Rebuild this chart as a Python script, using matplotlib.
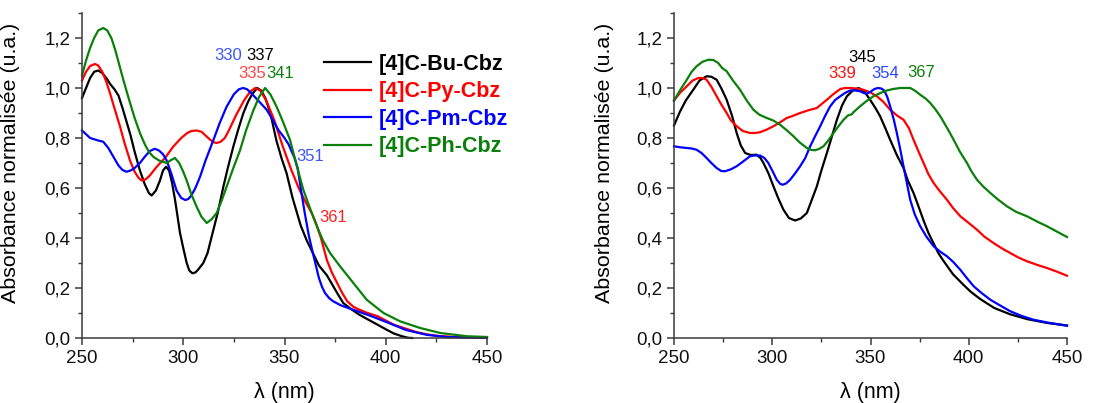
from __future__ import annotations

import matplotlib

matplotlib.use("Agg")
import matplotlib.pyplot as plt
from matplotlib.lines import Line2D
from matplotlib.ticker import FuncFormatter, MultipleLocator

plt.rcParams["font.family"] = ["Liberation Sans", "DejaVu Sans"]

# Left panel: normalised absorbance
bu_left_x = [250, 252, 254, 256, 258, 260, 262, 264, 266, 268, 270, 272, 274, 276, 278.6,
             281, 283, 284.4, 286.5, 288.5, 290, 291.5, 293, 294.5, 296, 298.4, 300,
             301.7, 303, 304.5, 306, 307.5, 309.9, 312, 314.8, 317, 319.8, 322, 324.7,
             327, 329.7, 332, 334, 336.5, 338.5, 340.5, 343, 346, 348.5, 351, 354, 358,
             361, 364, 367, 371, 373.5, 376, 379, 383, 387, 391, 396, 400, 404, 408,
             411, 413]
bu_left_y = [0.96, 1.0, 1.04, 1.065, 1.07, 1.06, 1.04, 1.015, 0.995, 0.97, 0.92, 0.865,
             0.81, 0.745, 0.67, 0.615, 0.58, 0.57, 0.59, 0.63, 0.67, 0.685, 0.67, 0.62,
             0.55, 0.42, 0.36, 0.30, 0.27, 0.259, 0.262, 0.275, 0.30, 0.34, 0.43, 0.50,
             0.605, 0.68, 0.765, 0.83, 0.90, 0.945, 0.975, 1.0, 0.99, 0.96, 0.90, 0.79,
             0.72, 0.66, 0.56, 0.45, 0.39, 0.34, 0.29, 0.25, 0.215, 0.18, 0.14, 0.115,
             0.093, 0.075, 0.053, 0.035, 0.018, 0.007, 0.001, 0.0]

py_left_x = [250, 252, 254, 256.4, 258, 260, 262, 263.8, 266, 268.8, 271, 273.7, 276,
             278, 279.5, 281.5, 283.5, 286.9, 291, 295, 299, 302, 304, 306.6, 309, 311,
             313, 315, 316.5, 318.5, 320.5, 322.5, 326, 330, 333, 335.5, 338, 341, 345,
             349, 353, 357, 360, 363.4, 365.5, 368, 371, 373.5, 376, 378.5, 381, 384,
             387, 391, 396, 400, 404, 410, 415, 420, 425, 432, 440, 450]
py_left_y = [1.03, 1.065, 1.088, 1.096, 1.09, 1.065, 1.025, 0.98, 0.92, 0.845, 0.78,
             0.71, 0.665, 0.64, 0.63, 0.635, 0.65, 0.685, 0.72, 0.765, 0.80, 0.82, 0.828,
             0.83, 0.825, 0.81, 0.795, 0.783, 0.78, 0.785, 0.80, 0.83, 0.89, 0.95, 0.985,
             1.0, 0.99, 0.95, 0.87, 0.77, 0.68, 0.60, 0.55, 0.50, 0.46, 0.40, 0.31, 0.26,
             0.22, 0.18, 0.147, 0.125, 0.113, 0.10, 0.087, 0.07, 0.053, 0.037, 0.024,
             0.015, 0.009, 0.005, 0.003, 0.002]

pm_left_x = [250, 252, 254, 256, 258, 260.5, 263, 265.5, 268, 270, 272, 274, 276, 278.6,
             281, 283.5, 286, 288, 290, 291.8, 294, 296.7, 299, 301, 302.5, 304, 306,
             308.3, 311, 314.8, 318, 321.4, 325, 327.5, 329.6, 331.5, 333.5, 337, 341.2,
             344, 347, 350, 352, 353.6, 355, 356.5, 358, 360, 362, 364, 365.5, 367,
             368.5, 370, 372, 374, 378, 385, 392, 400, 410, 420, 430, 440, 450]
pm_left_y = [0.83, 0.815, 0.80, 0.795, 0.79, 0.785, 0.76, 0.725, 0.69, 0.672, 0.665,
             0.67, 0.68, 0.70, 0.725, 0.748, 0.757, 0.75, 0.735, 0.71, 0.66, 0.59, 0.56,
             0.552, 0.556, 0.57, 0.60, 0.645, 0.71, 0.79, 0.86, 0.925, 0.975, 0.995, 1.0,
             0.995, 0.98, 0.95, 0.913, 0.875, 0.832, 0.80, 0.775, 0.745, 0.72, 0.68,
             0.60, 0.50, 0.41, 0.34, 0.29, 0.24, 0.205, 0.18, 0.16, 0.147, 0.13, 0.11,
             0.09, 0.065, 0.032, 0.013, 0.004, 0.002, 0.001]

ph_left_x = [250, 252, 254, 256, 258, 260.5, 262.5, 264.5, 266.5, 268.5, 270.5, 273, 276,
             278.6, 281, 283, 285.2, 288, 291.8, 294, 295.9, 298, 300, 301.7, 304, 306.6,
             309, 311.6, 314, 316.5, 319, 321.4, 324.5, 328, 331, 334.6, 337.5, 340.4,
             343, 346, 349, 352.7, 356, 359.3, 363, 366, 369, 372.5, 377.4, 384, 390.6,
             398.9, 407, 417, 427, 440, 450]
ph_left_y = [1.05, 1.11, 1.16, 1.20, 1.23, 1.24, 1.23, 1.20, 1.15, 1.09, 1.03, 0.96,
             0.88, 0.82, 0.775, 0.745, 0.725, 0.71, 0.70, 0.712, 0.72, 0.70, 0.665, 0.63,
             0.575, 0.525, 0.485, 0.46, 0.475, 0.50, 0.55, 0.605, 0.675, 0.75, 0.83,
             0.91, 0.965, 1.0, 0.975, 0.927, 0.87, 0.793, 0.69, 0.593, 0.51, 0.447, 0.39,
             0.34, 0.287, 0.22, 0.153, 0.10, 0.067, 0.04, 0.02, 0.007, 0.004]

# Right panel
bu_right_x = [250, 253, 256, 259.8, 263, 266.6, 269, 271.7, 274, 276.8, 279.5, 281.9,
              284, 286.2, 289, 292.1, 294, 295.5, 298, 300.6, 303, 305.7, 308.5, 311.6,
              314.5, 317.6, 320, 322.7, 325, 327.8, 330.5, 332.9, 335.5, 338, 341, 344,
              347, 349.8, 352.5, 354.9, 357.5, 360, 363.5, 366.8, 369, 371.9, 374.5,
              377, 379.5, 382, 384.5, 387, 392, 397, 401, 406, 413, 421, 430, 440, 450]
bu_right_y = [0.85, 0.905, 0.95, 0.993, 1.03, 1.047, 1.045, 1.033, 1.0, 0.953, 0.89,
              0.82, 0.77, 0.74, 0.732, 0.733, 0.72, 0.70, 0.66, 0.607, 0.56, 0.513,
              0.48, 0.47, 0.478, 0.50, 0.55, 0.607, 0.67, 0.74, 0.81, 0.873, 0.93, 0.967,
              0.99, 1.0, 0.985, 0.953, 0.92, 0.887, 0.84, 0.793, 0.73, 0.68, 0.63, 0.58,
              0.525, 0.47, 0.42, 0.38, 0.34, 0.31, 0.255, 0.215, 0.185, 0.155, 0.12,
              0.095, 0.075, 0.06, 0.05]

py_right_x = [250, 253, 256.5, 259.5, 262.4, 264.5, 266.6, 269, 271.7, 274, 276.8, 279,
              281.9, 285, 288.7, 291, 293.8, 297, 300.6, 304, 307.4, 311, 314.2, 318,
              322.7, 325, 327.8, 331, 334.6, 337, 339.6, 343, 346.4, 350, 353.2, 356.5,
              360, 363.5, 366.8, 369.5, 371.9, 374.5, 377, 379.5, 382.1, 385.5, 388.9,
              392, 395.7, 400, 404.2, 408, 412.6, 417, 421.1, 425, 429.6, 435, 439.8,
              445, 450]
py_right_y = [0.95, 0.98, 1.007, 1.03, 1.04, 1.04, 1.033, 1.005, 0.967, 0.935, 0.90,
              0.87, 0.847, 0.828, 0.82, 0.82, 0.823, 0.833, 0.847, 0.863, 0.88, 0.89,
              0.90, 0.91, 0.92, 0.935, 0.953, 0.975, 0.996, 1.0, 1.0, 0.998, 0.993,
              0.982, 0.967, 0.945, 0.913, 0.89, 0.873, 0.84, 0.793, 0.745, 0.70, 0.655,
              0.62, 0.585, 0.553, 0.52, 0.487, 0.46, 0.433, 0.405, 0.38, 0.358, 0.34,
              0.323, 0.307, 0.292, 0.28, 0.265, 0.249]

pm_right_x = [250, 253, 256.5, 259, 261.5, 264, 266.6, 269, 271.7, 274, 276, 279, 281.9,
              285, 288.7, 291, 293.8, 296, 298, 300.3, 302.3, 304, 305.3, 307, 309.1,
              311.5, 314.2, 316.8, 319.3, 322, 324.4, 327, 329.5, 332, 334.6, 337, 339.6,
              342, 344.7, 346.5, 348.1, 350, 352, 353.8, 355.5, 357, 358.5, 360, 361.8,
              363.4, 365, 366.8, 368.5, 370.2, 372.5, 375.3, 378.5, 382.1, 385.5, 388.9,
              392, 395.7, 399, 402.5, 406.5, 411, 416, 421.1, 427, 433, 440, 450]
pm_right_y = [0.767, 0.763, 0.76, 0.758, 0.753, 0.74, 0.72, 0.70, 0.68, 0.668, 0.667,
              0.675, 0.687, 0.705, 0.727, 0.73, 0.73, 0.72, 0.70, 0.665, 0.633, 0.617,
              0.613, 0.618, 0.633, 0.657, 0.687, 0.72, 0.767, 0.81, 0.847, 0.89, 0.927,
              0.952, 0.967, 0.98, 0.99, 0.99, 0.987, 0.98, 0.977, 0.985, 0.996, 1.0,
              0.998, 0.99, 0.965, 0.927, 0.875, 0.82, 0.76, 0.687, 0.62, 0.553, 0.495,
              0.447, 0.405, 0.367, 0.345, 0.327, 0.305, 0.273, 0.24, 0.207, 0.18, 0.153,
              0.13, 0.107, 0.088, 0.073, 0.062, 0.049]

ph_right_x = [250, 253, 256.5, 259, 261.5, 264.5, 267.5, 270, 272.5, 274.5, 276.8, 280,
              283.6, 287, 290.4, 293.5, 297.2, 300.5, 304, 307.5, 310.8, 314, 317.6, 320,
              321.8, 324, 326.1, 328.5, 331.2, 333.5, 336.3, 338.5, 340.5, 341.3, 343,
              344.7, 348, 351.5, 355, 358.3, 361.5, 365.1, 368, 370.2, 372.5, 375.3, 378,
              380.4, 383, 385.5, 389, 392.3, 395.5, 399.1, 401.5, 404.2, 407.5, 411, 415,
              419.4, 424, 429.6, 435, 439.8, 445, 450]
ph_right_y = [0.95, 0.99, 1.033, 1.065, 1.087, 1.105, 1.113, 1.112, 1.10, 1.08, 1.067,
              1.03, 0.993, 0.95, 0.913, 0.893, 0.88, 0.87, 0.853, 0.83, 0.807, 0.782,
              0.76, 0.752, 0.751, 0.757, 0.767, 0.79, 0.82, 0.845, 0.873, 0.89, 0.895,
              0.903, 0.915, 0.927, 0.948, 0.967, 0.98, 0.99, 0.996, 1.0, 1.0, 1.0, 0.99,
              0.973, 0.958, 0.94, 0.915, 0.887, 0.84, 0.793, 0.745, 0.70, 0.665, 0.633,
              0.605, 0.58, 0.553, 0.527, 0.505, 0.487, 0.465, 0.447, 0.425, 0.404]

series_names = ["[4]C-Bu-Cbz", "[4]C-Py-Cbz", "[4]C-Pm-Cbz", "[4]C-Ph-Cbz"]
series_colors = ["#000000", "#ff0000", "#0000ff", "#0a800a"]

# Peak labels: (text, x in nm, y, colour)
left_peaks = [("330", 322.1, 1.132, "#3a55ff"), ("337", 337.9, 1.132, "#000000"),
              ("335", 334.0, 1.060, "#ff4545"), ("341", 347.8, 1.060, "#0a800a"),
              ("351", 362.6, 0.728, "#3a55ff"), ("361", 374.0, 0.484, "#ff2020")]
right_peaks = [("345", 345.7, 1.124, "#000000"), ("339", 335.5, 1.060, "#ff1010"),
               ("354", 357.4, 1.060, "#2a45ff"), ("367", 375.7, 1.064, "#0a800a")]


def style_axis(axis: plt.Axes) -> None:
    axis.set_xlim(250, 450)
    axis.set_ylim(0, 1.3)
    axis.xaxis.set_major_locator(MultipleLocator(50))
    axis.xaxis.set_minor_locator(MultipleLocator(25))
    axis.yaxis.set_major_locator(MultipleLocator(0.2))
    axis.yaxis.set_minor_locator(MultipleLocator(0.1))
    axis.yaxis.set_major_formatter(FuncFormatter(lambda v, _: f"{v:.1f}".replace(".", ",")))
    for side in ("top", "right"):
        axis.spines[side].set_visible(False)
    for side in ("left", "bottom"):
        axis.spines[side].set_color("#3a3a3a")
        axis.spines[side].set_linewidth(1.1)
    axis.tick_params(which="major", direction="out", length=5, width=1.1,
                     color="#3a3a3a", labelsize=13.5, labelcolor="#111111")
    axis.tick_params(which="minor", direction="out", length=3, width=1.0, color="#3a3a3a")
    axis.set_xlabel("λ (nm)", fontsize=15.5)
    axis.set_ylabel("Absorbance normalisée (u.a.)", fontsize=15.4)
    axis.xaxis.set_label_coords(0.5, -0.135)
    axis.yaxis.set_label_coords(-0.153, 0.54)
    axis.xaxis.label.set_va("top")


figure = plt.figure(figsize=(10.97, 4.03), dpi=100)
left = figure.add_axes([82 / 1097, 1 - 338 / 403, 405 / 1097, 325 / 403])
right = figure.add_axes([674 / 1097, 1 - 338 / 403, 393 / 1097, 325 / 403])

left_data = [(bu_left_x, bu_left_y), (py_left_x, py_left_y),
             (pm_left_x, pm_left_y), (ph_left_x, ph_left_y)]
right_data = [(bu_right_x, bu_right_y), (py_right_x, py_right_y),
              (pm_right_x, pm_right_y), (ph_right_x, ph_right_y)]

for axis, data, peaks in ((left, left_data, left_peaks), (right, right_data, right_peaks)):
    style_axis(axis)
    for (xs, ys), color in zip(data, series_colors):
        axis.plot(xs, ys, color=color, linewidth=1.6, solid_joinstyle="round", clip_on=False)
    for text, px, py, color in peaks:
        axis.text(px, py, text, color=color, fontsize=12, ha="center", va="center")

handles = [Line2D([], [], color=c, linewidth=1.6) for c in series_colors]
left.legend(
    handles,
    series_names,
    loc="upper left",
    bbox_to_anchor=(324 / 1097, 1 - 54 / 403),
    bbox_transform=figure.transFigure,
    frameon=False,
    prop={"weight": "bold", "size": 15.5},
    labelcolor="linecolor",
    handlelength=2.2,
    handletextpad=0.33,
    borderpad=0,
    borderaxespad=0,
    labelspacing=0.3,
)

figure.savefig("out.png", dpi=100)
plt.close(figure)
